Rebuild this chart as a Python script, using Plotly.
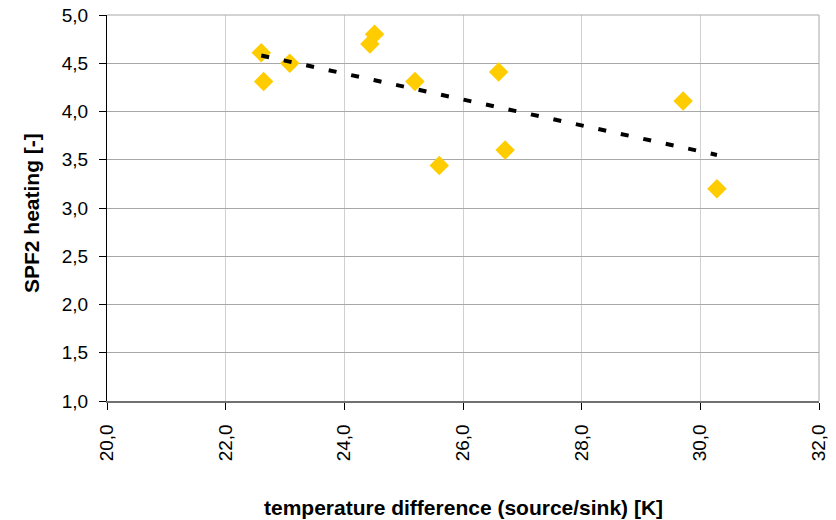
import numpy as np
import plotly.graph_objects as go

temp_diff = [22.60, 22.64, 23.08, 24.43, 24.51, 25.19, 25.60, 26.60, 26.71, 29.71, 30.28]
spf2 = [4.61, 4.31, 4.50, 4.70, 4.80, 4.31, 3.44, 4.41, 3.60, 4.11, 3.20]
x_ticks = [20, 22, 24, 26, 28, 30, 32]
y_ticks = [1.0, 1.5, 2.0, 2.5, 3.0, 3.5, 4.0, 4.5, 5.0]
x_title = "temperature difference (source/sink) [K]"
y_title = "SPF2 heating [-]"

# linear trendline computed from data
coef = np.polyfit(temp_diff, spf2, 1)
tx = np.array([min(temp_diff), max(temp_diff)])
ty = np.polyval(coef, tx)

fig = go.Figure()
fig.add_trace(go.Scatter(x=temp_diff, y=spf2, mode="markers",
                         marker=dict(symbol="diamond", size=15, color="#FFCC00"),
                         showlegend=False))
fig.add_trace(go.Scatter(x=tx, y=ty, mode="lines",
                         line=dict(color="black", width=4, dash="8px,15px"),
                         showlegend=False))

font = "Liberation Sans, Arial, sans-serif"
fig.update_layout(
    width=836, height=520,
    margin=dict(l=107, r=17, t=15, b=119, autoexpand=False),
    paper_bgcolor="white", plot_bgcolor="white",
    separators=",.",
    font=dict(family=font, size=19, color="black"),
    xaxis=dict(range=[20, 32], tickvals=x_ticks, tickformat=".1f", tickangle=-90,
               showgrid=True, gridcolor="#d0d0d0", gridwidth=1,
               showline=True, linecolor="#707070", linewidth=1.5, mirror=False,
               ticks="outside", ticklen=7, tickcolor="#000000", zeroline=False,
               ticklabelstandoff=7, automargin=False),
    yaxis=dict(range=[1, 5], tickvals=y_ticks, tickformat=".1f",
               showgrid=True, gridcolor="#a8a8a8", gridwidth=1,
               showline=True, linecolor="#000000", linewidth=1,
               ticks="outside", ticklen=7, tickcolor="#000000", zeroline=False,
               ticklabelstandoff=7, automargin=False),
)
fig.add_annotation(text="<b>" + x_title + "</b>", xref="paper", yref="paper",
                   x=0.5, y=-(507 - 401) / 386, xanchor="center", yanchor="middle",
                   showarrow=False, font=dict(size=21))
fig.add_annotation(text="<b>" + y_title + "</b>", xref="paper", yref="paper",
                   x=-(107 - 31) / 712, y=(401 - 213) / 386, xanchor="center", yanchor="middle",
                   textangle=-90, showarrow=False, font=dict(size=21))
# top and right border of plot area
fig.add_shape(type="line", xref="paper", yref="paper", x0=0, x1=1, y0=1, y1=1,
              line=dict(color="#a8a8a8", width=1))
fig.add_shape(type="line", xref="paper", yref="paper", x0=1, x1=1, y0=0, y1=1,
              line=dict(color="#a8a8a8", width=1))
fig.write_html("out.html")
